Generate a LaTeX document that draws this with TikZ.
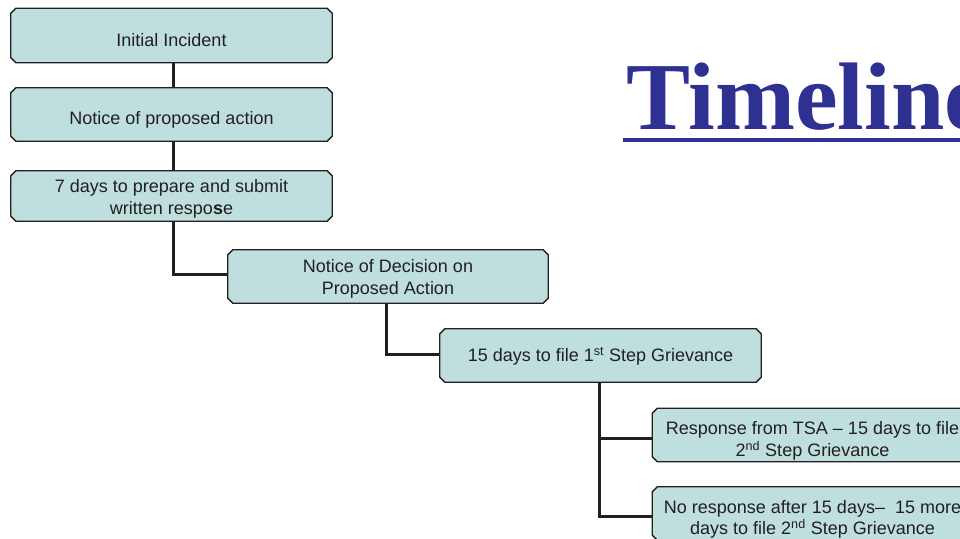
\documentclass[tikz,border=0pt]{standalone}
\usepackage{fontspec}
\setmainfont{Liberation Sans}
\newfontfamily\titlefont{Liberation Serif}
\usetikzlibrary{backgrounds}
\definecolor{boxfill}{HTML}{BEDFDD}
\definecolor{inkdark}{HTML}{231F20}
\definecolor{titleblue}{HTML}{2E3192}
\tikzset{
  stepbox/.style={minimum width=320pt, minimum height=53pt, inner sep=0pt,
    align=center, text=inkdark, font=\fontsize{18}{21.5}\selectfont},
  outline/.style={fill=boxfill, draw=inkdark, line width=1.3pt},
  link/.style={draw=inkdark, line width=3pt},
}
% #1 node name, #2 how far (pt) the box sits above the node's own frame
\newcommand\chamferbox[2]{%
  \path[outline] ([xshift=5pt,yshift=#2pt]#1.north west) -- ([xshift=-5pt,yshift=#2pt]#1.north east)
    -- ([yshift=#2pt-5pt]#1.north east) -- ([yshift=#2pt+5pt]#1.south east)
    -- ([xshift=-5pt,yshift=#2pt]#1.south east) -- ([xshift=5pt,yshift=#2pt]#1.south west)
    -- ([yshift=#2pt+5pt]#1.south west) -- ([yshift=#2pt-5pt]#1.north west) -- cycle;}
\begin{document}
\begin{tikzpicture}[x=1pt, y=-1pt]
\useasboundingbox (0,0) rectangle (960,538);
\clip (0,0) rectangle (960,538);

\node[stepbox, minimum width=321pt, minimum height=54pt] (b1) at (171.5,40.5) {Initial Incident};
\node[stepbox, minimum width=321pt] (b2) at (171.5,119.5) {Notice of proposed action};
\node[stepbox, minimum width=321pt, minimum height=50pt] (b3) at (171.5,199) {7 days to prepare and submit\\written respo\textbf{s}e};
\node[stepbox] (b4) at (388,279) {Notice of Decision on\\Proposed Action};
\node[stepbox, minimum width=321pt] (b5) at (600.5,356.5) {15 days to file 1\textsuperscript{st} Step Grievance};
\node[stepbox] (b6) at (812.5,441) {Response from TSA -- 15 days to file\\2\textsuperscript{nd} Step Grievance};
\node[stepbox] (b7) at (812.5,519.5) {No response after 15 days--~ 15 more\\days to file 2\textsuperscript{nd} Step Grievance};

\node[anchor=base west, inner sep=0pt, text=titleblue,
  font=\titlefont\bfseries\fontsize{96}{100}\selectfont] (title) at (626,129) {Timeline};
\draw[titleblue, line width=4pt] ([xshift=-3pt,yshift=-11pt]title.base west) -- ++(420,0);

\begin{scope}[on background layer]
  \fill[white] (0,0) rectangle (960,538);
  \draw[link] ([xshift=2pt,yshift=5pt]b1.south) -- ([xshift=2pt,yshift=5pt]b2.north);
  \draw[link] ([xshift=2pt,yshift=5pt]b2.south) -- ([xshift=2pt,yshift=3pt]b3.north);
  \draw[link] ([xshift=2pt,yshift=3pt]b3.south) |- ([yshift=5pt]b4.west);
  \draw[link] ([xshift=-2pt,yshift=2.5pt]b4.south) |- ([yshift=2.5pt]b5.west);
  \draw[link] ([xshift=-1.5pt,yshift=1pt]b5.south) |- ([yshift=3.5pt]b7.west);
  \draw[link] ([xshift=-1.5pt,yshift=1pt]b5.south) |- ([yshift=3pt]b6.west);
  \chamferbox{b1}{5}
  \chamferbox{b2}{5}
  \chamferbox{b3}{3}
  \chamferbox{b4}{2.5}
  \chamferbox{b5}{1}
  \chamferbox{b6}{6}
  \chamferbox{b7}{6}
\end{scope}
\end{tikzpicture}
\end{document}
